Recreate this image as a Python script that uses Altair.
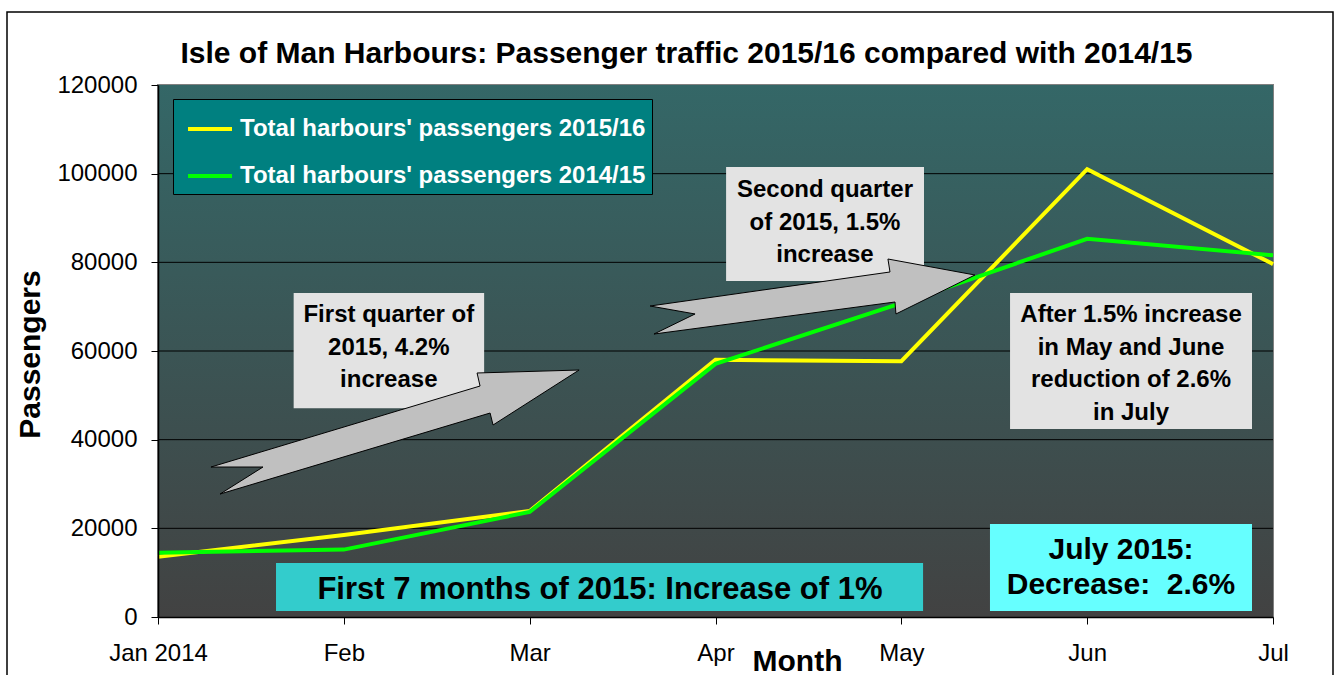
import json
import altair as alt
import pandas as pd

# ---------------- data ----------------
months = ["Jan 2014", "Feb", "Mar", "Apr", "May", "Jun", "Jul"]
series_names = ["Total harbours' passengers 2015/16", "Total harbours' passengers 2014/15"]
series_colors = ["#ffff00", "#00ff00"]
pax_2015_16 = [13600, 18500, 23900, 58000, 57700, 101000, 79600]
pax_2014_15 = [14500, 15200, 23700, 57100, 70800, 85300, 81600]
y_ticks = [0, 20000, 40000, 60000, 80000, 100000, 120000]
grid_values = [20000, 40000, 60000, 80000, 100000]

# annotation boxes (month index / passengers units)
box_x0 = [0.73, 3.057, 4.585, 0.635, 4.477]
box_x1 = [1.755, 4.122, 5.887, 4.117, 5.887]
box_y0 = [47100, 75800, 42400, 1350, 1350]
box_y1 = [73100, 101500, 73080, 12180, 20980]
box_fill = ["#e3e3e3", "#e3e3e3", "#e3e3e3", "#33cccc", "#66ffff"]

# text anchors give the centre of each note's first line
note_texts = ["First quarter of\n2015, 4.2%\nincrease",
              "Second quarter\nof 2015, 1.5%\nincrease",
              "After 1.5% increase\nin May and June\nreduction of 2.6%\nin July"]
note_x = [1.242, 3.589, 5.236]
note_y = [68100, 96300, 68100]

big_texts = ["First 7 months of 2015: Increase of 1%"]
big_x = [2.378]
big_y = [6090]

july_texts = ["July 2015:\nDecrease:\u00a0 2.6%"]
july_x = [5.182]
july_y = [15100]

# arrow outlines (month index / passengers units)
arrow1_x = [0.285, 0.565, 0.334, 1.787, 1.803, 2.266, 1.717, 1.733, 0.285]
arrow1_y = [33830, 33830, 27740, 46010, 43310, 55710, 55040, 52100, 33830]
arrow2_x = [2.648, 2.890, 2.669, 3.966, 3.971, 4.396, 3.928, 3.939, 2.648]
arrow2_y = [70150, 68350, 63830, 71050, 68350, 77140, 80750, 77820, 70150]

W, H = 1115, 532
FONT = "Liberation Sans"

# ---------------- tables ----------------
rows = []
for name, vals in zip(series_names, [pax_2015_16, pax_2014_15]):
    for i, v in enumerate(vals):
        rows.append({"series": name, "m": i, "pax": v})
df = pd.DataFrame(rows)

boxes_df = pd.DataFrame({"x0": box_x0, "x1": box_x1, "y0": box_y0, "y1": box_y1, "fill": box_fill})
notes_df = pd.DataFrame({"x": note_x, "y": note_y, "t": note_texts})
big_df = pd.DataFrame({"x": big_x, "y": big_y, "t": big_texts})
july_df = pd.DataFrame({"x": july_x, "y": july_y, "t": july_texts})
arrow_rows = []
for aid, (xs, ys) in enumerate([(arrow1_x, arrow1_y), (arrow2_x, arrow2_y)]):
    for k, (ax, ay) in enumerate(zip(xs, ys)):
        arrow_rows.append({"a": aid, "o": k, "x": ax, "y": ay})
arrows_df = pd.DataFrame(arrow_rows)
grid_df = pd.DataFrame({"v": grid_values})

# ---------------- scales / axes ----------------
x_scale = alt.Scale(domain=[0, 6], nice=False, zero=False)
y_scale = alt.Scale(domain=[0, 120000], nice=False)
label_expr = json.dumps(months) + "[datum.value]"
x_axis = alt.Axis(values=list(range(7)), labelExpr=label_expr, grid=False, tickSize=7,
                  labelPadding=17, labelFlush=False, labelOverlap=False,
                  title="Month", titleX=639, titleY=44, titleBaseline="middle",
                  titleAlign="center", zindex=1)
y_axis = alt.Axis(values=y_ticks, format="d", grid=False, tickSize=7, labelPadding=14,
                  title="Passengers", titleAngle=270, titleX=-128, titleY=269,
                  titleAlign="center", titleBaseline="middle", zindex=1)

X = lambda f: alt.X(f, type="quantitative", scale=x_scale, axis=x_axis)
Y = lambda f: alt.Y(f, type="quantitative", scale=y_scale, axis=y_axis)

# ---------------- layers ----------------
dummy = alt.Data(values=[{}])

frame = alt.Chart(dummy).mark_rect(fillOpacity=0, stroke="black", strokeWidth=1.5).encode(
    x=alt.value(-151), x2=alt.value(1175), y=alt.value(-73), y2=alt.value(600))

bg = alt.Chart(dummy).mark_rect(
    fill=alt.LinearGradient(gradient="linear",
                            stops=[alt.GradientStop(color="#346767", offset=0),
                                   alt.GradientStop(color="#424242", offset=1)],
                            x1=0, x2=0, y1=0, y2=1)
).encode(x=alt.value(0), x2=alt.value(W), y=alt.value(0), y2=alt.value(H))

grid = alt.Chart(grid_df).mark_rule(color="black", strokeWidth=1).encode(y=Y("v"))

lines = alt.Chart(df).mark_line(strokeWidth=4).encode(
    x=X("m"), y=Y("pax"),
    color=alt.Color("series:N",
                    scale=alt.Scale(domain=series_names, range=series_colors),
                    legend=alt.Legend(title=None, orient="none", legendX=15, legendY=14,
                                      symbolType="stroke", symbolSize=1936,
                                      symbolStrokeWidth=4, symbolOffset=7,
                                      labelFontSize=24,
                                      labelFontWeight="bold", labelColor="white",
                                      labelFont=FONT, labelOffset=6, labelLimit=0,
                                      rowPadding=11, padding=6, fillColor="#008080",
                                      strokeColor="black")),
    order=alt.Order("m:Q"),
)

boxes = alt.Chart(boxes_df).mark_rect().encode(
    x=X("x0"), x2="x1", y=Y("y0"), y2="y1", fill=alt.Fill("fill:N", scale=None))

notes = alt.Chart(notes_df).mark_text(font=FONT, fontSize=24, fontWeight="bold", color="black",
                                      lineBreak="\n", lineHeight=32.5, baseline="middle",
                                      align="center").encode(x=X("x"), y=Y("y"), text="t:N")
big = alt.Chart(big_df).mark_text(font=FONT, fontSize=31, fontWeight="bold", color="black",
                                  baseline="middle", align="center").encode(
    x=X("x"), y=Y("y"), text="t:N")
july = alt.Chart(july_df).mark_text(font=FONT, fontSize=30, fontWeight="bold", color="black",
                                    lineBreak="\n", lineHeight=35, baseline="middle",
                                    align="center").encode(x=X("x"), y=Y("y"), text="t:N")

arrows = alt.Chart(arrows_df).mark_line(fill="#c0c0c0", stroke="black", strokeWidth=1).encode(
    x=X("x"), y=Y("y"), detail="a:N", order=alt.Order("o:Q"))

chart = alt.layer(frame, bg, grid, lines, boxes, notes, big, july, arrows).properties(
    width=W, height=H,
    title=alt.TitleParams(
        "Isle of Man Harbours: Passenger traffic 2015/16 compared with 2014/15",
        fontSize=30, font=FONT, fontWeight="bold", color="black", anchor="middle",
        frame="group", dx=-29, offset=0, dy=58),
    autosize=alt.AutoSizeParams(type="none"),
    padding={"left": 158, "top": 85, "right": 61, "bottom": 58},
    background="white",
).configure_view(stroke="#808080", strokeWidth=2).configure_axis(
    domainColor="black", tickColor="black", labelColor="black", labelFont=FONT,
    labelFontSize=24, titleFont=FONT, titleFontSize=30, titleFontWeight="bold",
    titleColor="black", domainWidth=1.5)

chart.save("out.html", embed_options={"renderer": "svg", "actions": False})
